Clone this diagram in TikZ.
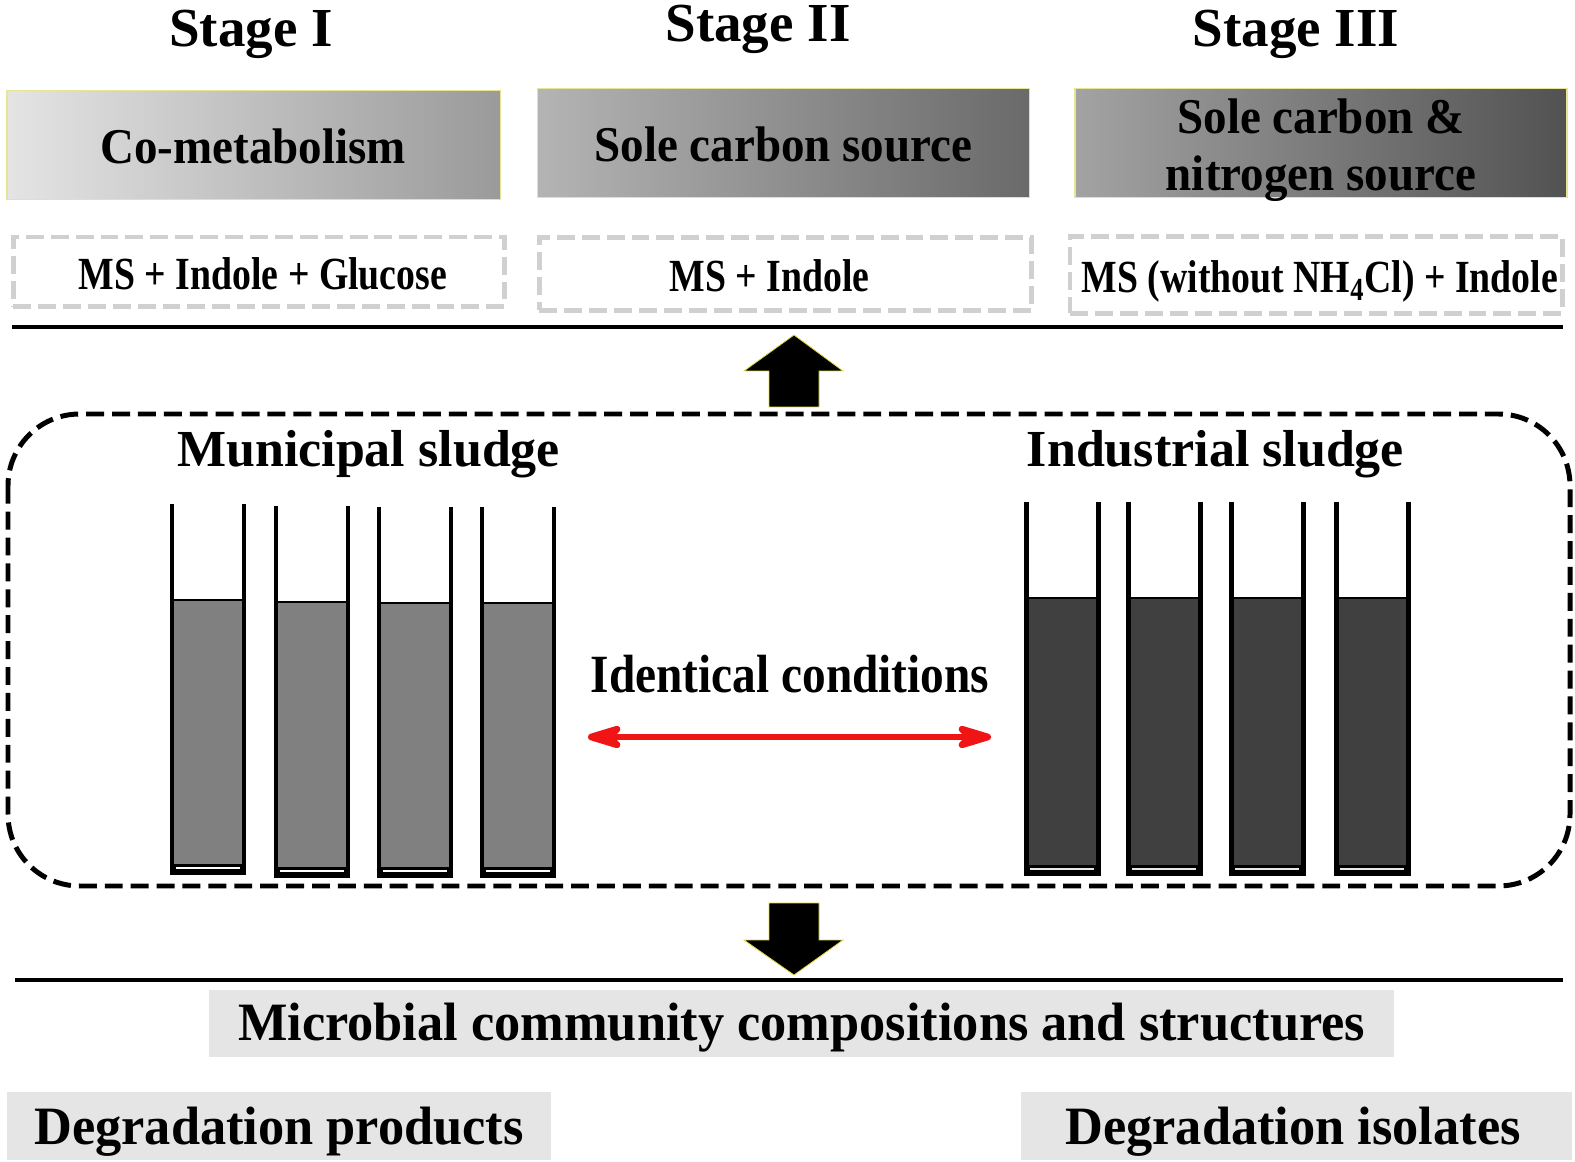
\documentclass[tikz,border=0pt]{standalone}
\usepackage{fontspec}
\usepackage{graphicx}
\setmainfont{Liberation Serif}
\newfontfamily\fsA[FakeStretch=0.94]{Liberation Serif}
\newfontfamily\fsB[FakeStretch=0.82]{Liberation Serif}
\newfontfamily\fsC[FakeStretch=0.88]{Liberation Serif}
\newfontfamily\fsD[FakeStretch=0.97]{Liberation Serif}
\usetikzlibrary{arrows.meta}
\definecolor{edgey}{RGB}{232,228,150}
\definecolor{arredge}{RGB}{225,215,60}
\definecolor{dashg}{RGB}{208,208,208}
\definecolor{resg}{RGB}{230,229,230}
\definecolor{liqA}{RGB}{128,128,128}
\definecolor{liqB}{RGB}{64,64,64}
\definecolor{redarr}{RGB}{240,20,20}
\definecolor{gAl}{RGB}{228,228,228}
\definecolor{gAr}{RGB}{154,154,154}
\definecolor{gBl}{RGB}{180,180,180}
\definecolor{gBr}{RGB}{106,106,106}
\definecolor{gCl}{RGB}{163,163,163}
\definecolor{gCr}{RGB}{82,82,82}
\begin{document}
\begin{tikzpicture}[x=0.5bp,y=-0.5bp,
  stagetxt/.style={font=\fontsize{27.6}{33}\selectfont\bfseries, inner sep=0, anchor=base},
  boxtxt/.style={font=\fsA\fontsize{25.1}{30}\selectfont\bfseries, inner sep=0, anchor=base},
  medtxt/.style={font=\fsB\fontsize{23.1}{27}\selectfont\bfseries, inner sep=0, anchor=base},
  sludgetxt/.style={font=\fontsize{26.1}{31}\selectfont\bfseries, inner sep=0, anchor=base},
  condtxt/.style={font=\fsC\fontsize{27}{32}\selectfont\bfseries, inner sep=0, anchor=base},
  restxt/.style={font=\fsD\fontsize{27.1}{32}\selectfont\bfseries, inner sep=0, anchor=base},
  gbox/.style={draw=edgey, line width=0.6pt, inner sep=0},
  medbox/.style={draw=dashg, line width=2.5pt, dash pattern=on 9pt off 3.5pt, inner sep=0},
  resbox/.style={fill=resg, inner sep=0},
  rule/.style={line width=1.7pt},
  blockarr/.style={fill=black, draw=arredge, line width=0.4pt, line join=miter},
  sludgebox/.style={line width=2.5pt, dash pattern=on 9pt off 4pt, rounded corners=36pt},
  wall/.style={line width=2.5pt, line join=miter},
  twoway/.style={draw=redarr, line width=3.4pt,
    {Stealth[length=25pt,width=15pt,inset=8pt,round]}-{Stealth[length=25pt,width=15pt,inset=8pt,round]}}
]
\useasboundingbox (0,0) rectangle (1575,1162);

% stage titles
\node[stagetxt] (s1) at (251,47) {Stage I};
\node[stagetxt] (s2) at (758,42) {Stage II};
\node[stagetxt] (s3) at (1296,47) {Stage III};

% gradient boxes
\node[gbox, minimum width=246.6bp, minimum height=54.7bp, left color=gAl, right color=gAr] (g1) at (253.6,145) {};
\node[gbox, minimum width=246bp, minimum height=54.7bp, left color=gBl, right color=gBr] (g2) at (783.5,143) {};
\node[gbox, minimum width=246bp, minimum height=54.7bp, left color=gCl, right color=gCr] (g3) at (1321,143) {};
\node[boxtxt] (b1) at (253,164) {Co-metabolism};
\node[boxtxt] (b2) at (783.5,162) {Sole carbon source};
\node[boxtxt] (b3a) at (1321,134) {Sole carbon \&};
\node[boxtxt] (b3b) at (1321,191) {nitrogen source};

% media boxes
\node[medbox, minimum width=245.6bp, minimum height=34.7bp] (m1) at (258.7,271.7) {};
\node[medbox, minimum width=246bp, minimum height=36.2bp] (m2) at (785.5,274) {};
\node[medbox, minimum width=246bp, minimum height=38.2bp] (m3) at (1316,275) {};
\node[medtxt] (mt1) at (263,290) {MS + Indole + Glucose};
\node[medtxt] (mt2) at (769.5,292) {MS + Indole};
\node[medtxt] (mt3) at (1320,293) {MS (without NH\textsubscript{4}Cl) + Indole};

% upper rule and up arrow
\coordinate (r1a) at (12,327);
\coordinate (r1b) at (1563,327);
\draw[rule] (r1a) -- (r1b);
\draw[blockarr] (769,407) -- (769,371) -- (744,371) -- (794,335) -- (843,371) -- (819,371) -- (819,407) -- cycle;

% sludge frame
\draw[sludgebox] (8,414) rectangle (1570,886);
\node[sludgetxt] (ms) at (368.6,467) {Municipal sludge};
\node[sludgetxt] (is) at (1215.5,467) {Industrial sludge};

% municipal tubes
\foreach \l/\t/\q/\b in {172/504/600/873, 276/506/602/876, 379/507/603/876, 482/507/603/876}{
  \fill[liqA] (\l,\q) rectangle ({\l+72},\b);
  \fill[black] (\l,{\b-9}) rectangle ({\l+72},\b);
  \draw[white, line width=0.8pt] ({\l+4},{\b-5}) -- ({\l+68},{\b-5});
  \draw[wall] (\l,\t) -- (\l,\b) -- ({\l+72},\b) -- ({\l+72},\t);
  \draw[line width=1.5pt] (\l,\q) -- ({\l+72},\q);
}
% industrial tubes
\foreach \l/\t/\q/\b in {1026/502/598/874, 1128/502/598/874, 1231/502/598/874, 1336/502/598/874}{
  \fill[liqB] (\l,\q) rectangle ({\l+72},\b);
  \fill[black] (\l,{\b-9}) rectangle ({\l+72},\b);
  \draw[white!80!gray, line width=0.8pt] ({\l+4},{\b-5}) -- ({\l+68},{\b-5});
  \draw[wall] (\l,\t) -- (\l,\b) -- ({\l+72},\b) -- ({\l+72},\t);
  \draw[line width=1.5pt] (\l,\q) -- ({\l+72},\q);
}

% identical conditions
\node[condtxt] (ic) at (790,693) {Identical conditions};
\coordinate (ra) at (588,737);
\coordinate (rb) at (991,737);
\draw[twoway] (ra) -- (rb);

% down arrow and lower rule
\draw[blockarr] (769,903) -- (819,903) -- (819,940) -- (843,940) -- (794,975) -- (744,940) -- (769,940) -- cycle;
\coordinate (r2a) at (15,980);
\coordinate (r2b) at (1563,980);
\draw[rule, line width=2pt] (r2a) -- (r2b);

% results
\node[resbox, minimum width=592.5bp, minimum height=33.2bp] (rb1) at (801.6,1023.5) {};
\node[resbox, minimum width=272bp, minimum height=34.2bp] (rb2) at (279,1126) {};
\node[resbox, minimum width=275.7bp, minimum height=34.2bp] (rb3) at (1296.3,1126) {};
\node[restxt] (rt1) at (801.6,1040) {Microbial community compositions and structures};
\node[restxt] (rt2) at (279,1144) {Degradation products};
\node[restxt] (rt3) at (1293,1144) {Degradation isolates};
\end{tikzpicture}
\end{document}
